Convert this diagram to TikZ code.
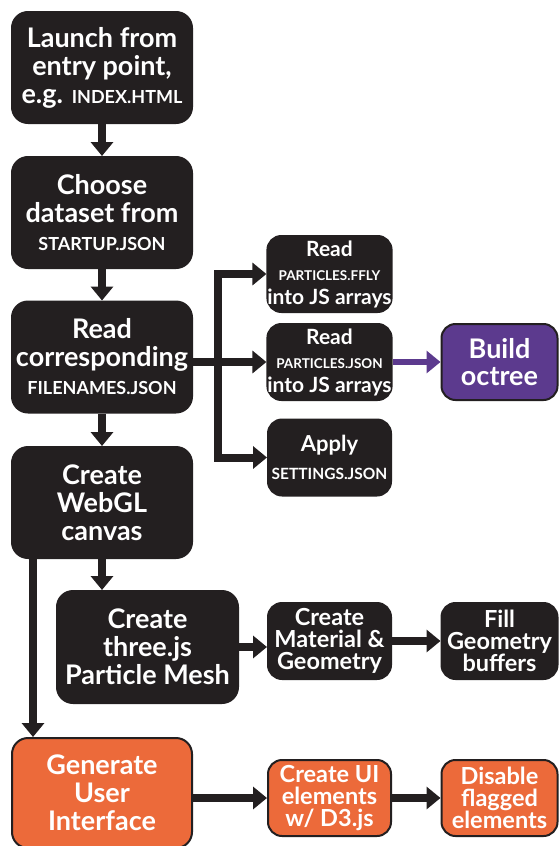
\documentclass[tikz,border=0pt]{standalone}
\usepackage{fontspec}
\setmainfont{Lato}
\usetikzlibrary{arrows.meta}
\definecolor{boxblack}{HTML}{231F20}
\definecolor{octpurple}{HTML}{5C3A8E}
\definecolor{uiorange}{HTML}{EC6A3A}
\newcommand{\fname}[1]{{\fontsize{18}{18}\selectfont #1}}
\newcommand{\sfname}[2][13.5]{{\fontsize{#1}{#1}\selectfont #2}}

\begin{document}
\begin{tikzpicture}[x=1pt,y=-1pt,
  bigbox/.style={draw=boxblack,line width=2pt,fill=boxblack,text=white,rounded corners=16pt,
    minimum width=180pt,minimum height=111pt,inner sep=0pt,align=center,
    font=\bfseries\fontsize{27}{28}\selectfont},
  smallbox/.style={bigbox,rounded corners=14pt,minimum width=123pt,minimum height=76pt,
    font=\bfseries\fontsize{21}{24}\selectfont},
  tightbox/.style={smallbox,font=\bfseries\fontsize{23.5}{22}\selectfont},
  flow/.style={draw=boxblack,line width=8pt,line join=miter,-{Triangle[length=14pt,width=22pt]}},
]
\useasboundingbox (0,0) rectangle (559,846);

\node[bigbox] (launch) at (102,67.5) {Launch from\\entry point,\\e.g. \fname{INDEX.HTML}};
\node[bigbox] (choose) at (102,212.5) {Choose\\dataset from\\\fname{STARTUP.JSON}};
\node[bigbox] (readfn) at (102,357) {Read\\corresponding\\\fname{FILENAMES.JSON}};
\node[bigbox] (webgl) at (102,502.5) {Create\\WebGL\\canvas};
\node[bigbox,minimum width=181pt,minimum height=112pt] (mesh) at (147.5,647) {Create\\three.js\\Particle Mesh};
\node[bigbox,fill=uiorange,minimum height=110pt] (gui) at (102,793) {Generate\\User\\Interface};

\node[smallbox] (ffly) at (329.5,274) {Read\\\sfname{PARTICLES.FFLY}\\into JS arrays};
\node[smallbox] (pjson) at (329.5,362) {Read\\\sfname{PARTICLES.JSON}\\into JS arrays};
\node[smallbox,font=\bfseries\fontsize{22}{28}\selectfont] (apply) at (329.5,457.5) {Apply\\\sfname[15.5]{SETTINGS.JSON}};
\node[smallbox,fill=octpurple,minimum width=116pt,font=\bfseries\fontsize{27}{27}\selectfont] (octree) at (499.5,362) {Build\\octree};

\node[tightbox] (material) at (329.5,641) {Create\\Material \&\\Geometry};
\node[tightbox,minimum width=116pt] (fill) at (499.5,641) {Fill\\Geometry\\buffers};
\node[tightbox,fill=uiorange] (ui) at (329.5,798) {Create UI\\elements\\w/ D3.js};
\node[tightbox,fill=uiorange,minimum width=116pt] (disable) at (499.5,798) {Disable\\flagged\\elements};

\coordinate (split) at (218,362);

\draw[flow] (launch) -- (choose);
\draw[flow] (choose) -- (readfn);
\draw[flow] (readfn) -- (webgl);
\draw[flow] (readfn.east |- split) -- (pjson);
\draw[flow] (split) |- (ffly);
\draw[flow] (split) |- (apply);
\draw[flow,draw=octpurple,line width=6pt] (pjson) -- (octree);
\draw[flow] (webgl.south) -- (webgl.south |- mesh.north);
\draw[flow] ([xshift=22pt]webgl.south west) -- ([xshift=22pt]webgl.south west |- gui.north);
\draw[flow] (mesh.east) -- (mesh.east -| material.west);
\draw[flow] (material) -- (fill);
\draw[flow] (gui.east |- ui) -- (ui);
\draw[flow] (ui) -- (disable);
\end{tikzpicture}
\end{document}
